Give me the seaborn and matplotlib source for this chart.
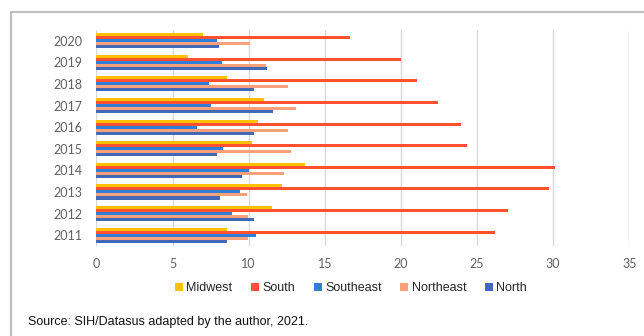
import matplotlib
matplotlib.use("Agg")
import matplotlib.pyplot as plt
from matplotlib.lines import Line2D
import seaborn as sns
import pandas as pd

years = [2020, 2019, 2018, 2017, 2016, 2015, 2014, 2013, 2012, 2011]
regions = ["Midwest", "South", "Southeast", "Northeast", "North"]

midwest = [7.0, 6.0, 8.55, 11.0, 10.6, 10.25, 13.7, 12.2, 11.5, 8.6]
south = [16.65, 20.0, 21.05, 22.45, 23.95, 24.35, 30.15, 29.7, 27.05, 26.2]
southeast = [7.95, 8.25, 7.4, 7.5, 6.6, 8.3, 10.05, 9.45, 8.9, 10.5]
northeast = [10.1, 11.15, 12.6, 13.1, 12.6, 12.75, 12.35, 9.9, 9.95, 9.95]
north = [8.05, 11.2, 10.35, 11.6, 10.35, 7.95, 9.55, 8.1, 10.35, 8.55]

colors = ["#FFC000", "#FF5030", "#2F7ED8", "#F7A07A", "#4468B8"]

series = {"Midwest": midwest, "South": south, "Southeast": southeast,
          "Northeast": northeast, "North": north}
df = pd.DataFrame([
    {"year": str(y), "region": r, "value": v}
    for r in regions for y, v in zip(years, series[r])
])

sns.set_style("white")
plt.rcParams["font.family"] = ["Lato", "DejaVu Sans"]

fig = plt.figure(figsize=(6.44, 3.36), dpi=100)
ax = fig.add_axes([0.1498, 0.268, 0.8273, 0.643])

sns.barplot(data=df, y="year", x="value", hue="region", orient="h",
            order=[str(y) for y in years], hue_order=regions,
            palette=colors, width=0.7, saturation=1, linewidth=0,
            legend=False, ax=ax)

ax.set_xlim(0, 35)
ax.set_ylim(9.5, -0.5)
ax.set_xticks(range(0, 36, 5))
ax.xaxis.grid(True, color="#D9D9D9", linewidth=1)
ax.yaxis.grid(False)
ax.set_axisbelow(True)
for s in ax.spines.values():
    s.set_visible(False)
ax.set_xlabel("")
ax.set_ylabel("")
ax.tick_params(axis="both", length=0, labelsize=9, labelcolor="#606060")
ax.tick_params(axis="y", pad=10)
ax.tick_params(axis="x", pad=9)

handles = [Line2D([0], [0], marker="s", linestyle="none", markersize=6,
                  markerfacecolor=c, markeredgewidth=0) for c in colors]
fig.legend(handles, regions, loc="center", bbox_to_anchor=(0.545, 0.143),
           ncol=5, frameon=False, handlelength=0.6, handletextpad=0.3,
           columnspacing=1.5, prop={"family": "Liberation Sans", "size": 9})

fig.text(28 / 644, 1 - 322 / 336, "Source: SIH/Datasus adapted by the author, 2021.",
         fontsize=9, family="Liberation Sans", va="center", ha="left", color="#111111")

# outer frame (top and left edges)
fig.add_artist(Line2D([11 / 644, 1.0], [1 - 12 / 336, 1 - 12 / 336],
                      transform=fig.transFigure, color="#C0C0C0", linewidth=1.6))
fig.add_artist(Line2D([11 / 644, 11 / 644], [0.0, 1 - 12 / 336],
                      transform=fig.transFigure, color="#C0C0C0", linewidth=1.6))

fig.savefig("out.png", dpi=100, facecolor="white")
